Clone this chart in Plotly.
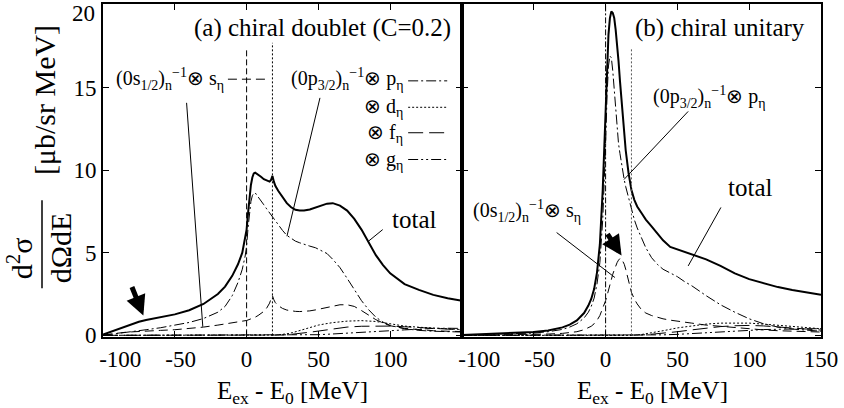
import plotly.graph_objects as go

# ---------------- data: panel (a) chiral doublet (C=0.2) ----------------
E_a = [-100, -95, -90, -85, -80, -75, -70, -60, -50, -40, -30, -20, -15, -10, -6, -3, -1,
       0, 1, 2, 3, 4, 5, 6, 8, 10, 12, 14, 16, 17, 18, 19, 20, 22, 25, 28, 31, 34, 37, 40,
       44, 48, 52, 56, 60, 65, 70, 75, 80, 85, 90, 95, 100, 110, 120, 130, 140, 150]
total_a = [0.05, 0.2, 0.35, 0.5, 0.68, 0.82, 0.93, 1.08, 1.27, 1.52, 1.9, 2.5, 2.95, 3.6, 4.3, 5.0, 5.8,
           6.4, 7.4, 8.4, 9.1, 9.55, 9.8, 9.85, 9.75, 9.6, 9.45, 9.35, 9.3, 9.4, 9.65, 9.3, 9.05, 8.75,
           8.35, 8.0, 7.75, 7.6, 7.55, 7.55, 7.62, 7.75, 7.88, 7.97, 8.0, 7.85, 7.55, 7.05, 6.4, 5.6,
           4.85, 4.25, 3.75, 3.1, 2.75, 2.45, 2.25, 2.1]
p_a = [0.0, 0.05, 0.12, 0.18, 0.23, 0.28, 0.34, 0.46, 0.6, 0.78, 1.02, 1.4, 1.75, 2.4, 3.2, 4.0, 4.8,
       5.4, 6.5, 7.5, 8.1, 8.45, 8.6, 8.62, 8.4, 8.15, 7.9, 7.65, 7.4, 7.28, 7.15, 7.02, 6.9, 6.7,
       6.35, 6.05, 5.85, 5.7, 5.6, 5.5, 5.4, 5.3, 5.15, 4.95, 4.6, 4.1, 3.45, 2.8, 2.1, 1.55,
       1.1, 0.8, 0.6, 0.4, 0.3, 0.25, 0.22, 0.2]
s_a = [0.02, 0.08, 0.14, 0.18, 0.21, 0.24, 0.27, 0.3, 0.34, 0.4, 0.5, 0.62, 0.68, 0.75, 0.8, 0.85, 0.88,
       0.9, 0.93, 0.96, 1.0, 1.03, 1.07, 1.1, 1.2, 1.3, 1.45, 1.65, 1.95, 2.2, 2.4, 2.15, 1.98, 1.8,
       1.63, 1.53, 1.48, 1.45, 1.44, 1.45, 1.48, 1.54, 1.62, 1.7, 1.78, 1.85, 1.85, 1.75, 1.5, 1.2,
       0.95, 0.75, 0.58, 0.42, 0.33, 0.28, 0.25, 0.23]
E_tail_a = [-100, 18, 20, 25, 30, 35, 40, 45, 50, 55, 60, 70, 80, 90, 100, 110, 120, 130, 140, 150]
d_a = [0, 0, 0.02, 0.06, 0.12, 0.24, 0.38, 0.5, 0.62, 0.7, 0.77, 0.86, 0.89, 0.84, 0.7, 0.56, 0.49, 0.44, 0.39, 0.35]
f_a = [0, 0, 0, 0.02, 0.05, 0.09, 0.14, 0.2, 0.26, 0.33, 0.4, 0.5, 0.55, 0.57, 0.56, 0.52, 0.47, 0.42, 0.37, 0.33]
g_a = [0, 0, 0, 0, 0, 0.01, 0.02, 0.03, 0.04, 0.06, 0.08, 0.13, 0.18, 0.22, 0.28, 0.33, 0.38, 0.42, 0.43, 0.42]

# ---------------- data: panel (b) chiral unitary ----------------
E_b = [-100, -90, -80, -70, -60, -50, -40, -30, -25, -20, -15, -12, -10, -8, -6, -4, -2, -1,
       0, 1, 2, 3, 4, 5, 6, 7, 8, 9, 10, 11, 12, 13, 14, 16, 18, 20, 22, 25, 28, 32, 36, 40,
       45, 50, 55, 60, 70, 80, 90, 100, 110, 120, 130, 140, 150]
total_b = [0.02, 0.05, 0.08, 0.1, 0.14, 0.2, 0.3, 0.48, 0.65, 0.9, 1.35, 1.8, 2.2, 2.8, 3.8, 5.5, 8.8, 11.0,
           13.5, 16.2, 18.2, 19.2, 19.6, 19.5, 19.2, 18.5, 17.7, 16.6, 15.4, 14.2, 13.1, 12.1, 11.2, 9.8,
           8.8, 8.2, 7.8, 7.4, 7.0, 6.6, 6.2, 5.75, 5.35, 5.2, 5.05, 4.9, 4.6, 4.2, 3.75, 3.4, 3.15,
           2.92, 2.75, 2.6, 2.45]
p_b = [0.01, 0.03, 0.05, 0.07, 0.1, 0.14, 0.22, 0.36, 0.5, 0.7, 1.05, 1.4, 1.75, 2.25, 3.1, 4.4, 7.0, 9.0,
       11.5, 14.5, 16.3, 16.9, 16.8, 16.0, 14.8, 13.5, 12.4, 11.6, 11.0, 10.4, 9.9, 9.4, 9.0, 8.3,
       7.7, 7.0, 6.5, 5.9, 5.3, 4.7, 4.3, 4.0, 3.8, 3.55, 3.25, 3.0, 2.4, 1.85, 1.4, 1.0, 0.7,
       0.5, 0.38, 0.3, 0.25]
s_b = [0.0, 0.01, 0.02, 0.03, 0.04, 0.06, 0.08, 0.12, 0.16, 0.22, 0.34, 0.44, 0.55, 0.7, 0.9, 1.2, 1.6, 1.85,
       2.1, 2.4, 2.75, 3.1, 3.4, 3.7, 3.95, 4.2, 4.4, 4.55, 4.65, 4.65, 4.5, 4.3, 4.0, 3.3,
       2.6, 2.2, 1.9, 1.55, 1.35, 1.2, 1.08, 1.0, 0.92, 0.85, 0.8, 0.74, 0.62, 0.54, 0.46, 0.38, 0.33,
       0.28, 0.25, 0.22, 0.2]
E_tail_b = [-100, 18, 25, 30, 40, 50, 60, 70, 80, 90, 100, 110, 120, 130, 140, 150]
d_b = [0, 0, 0.05, 0.12, 0.28, 0.45, 0.58, 0.68, 0.74, 0.76, 0.74, 0.68, 0.6, 0.52, 0.45, 0.4]
f_b = [0, 0, 0.02, 0.05, 0.12, 0.22, 0.33, 0.45, 0.53, 0.58, 0.6, 0.57, 0.52, 0.45, 0.38, 0.32]
g_b = [0, 0, 0, 0.01, 0.03, 0.06, 0.1, 0.15, 0.2, 0.25, 0.3, 0.35, 0.38, 0.4, 0.4, 0.4]

# threshold markers (E = 0 and eta threshold)
thr_E = [0, 18]
thr_top_a = [17.4, 17.7]
thr_top_b = [20.0, 17.4]

# ticks
x_ticks_a = [-100, -50, 0, 50, 100]
x_labels_a = ["-100", "-50", "0", "50", "100"]
x_ticks_b = [-100, -50, 0, 50, 100, 150]
x_labels_b = ["-100", "-50", "0", "50", "100", "150"]
y_ticks = [0, 5, 10, 15, 20]
y_labels = ["0", "5", "10", "15", "20"]

FONT = "'Liberation Serif', 'Times New Roman', Times, serif"
BLK = "black"

DASH_S = "9px,5px"
DASH_P = "10px,3px,2px,3px"
DASH_D = "2px,2px"
DASH_F = "15px,6px"
DASH_G = "10px,3px,2px,3px,2px,3px"

# label padding (non-breaking spaces) so the negative labels sit right of their tick as in the source
PAD = {"-100": 6, "-50": 2}
def padded(labels):
    return ["\u00a0" * PAD.get(t, 0) + t for t in labels]

fig = go.Figure()

def add_line(x, y, xa, ya, dash="solid", width=1.0, color=BLK):
    fig.add_trace(go.Scatter(x=x, y=y, xaxis=xa, yaxis=ya, mode="lines",
                             line=dict(color=color, width=width, dash=dash),
                             showlegend=False, hoverinfo="skip"))

# panel a
add_line(E_tail_a, g_a, "x", "y", DASH_G, 1.0)
add_line(E_tail_a, f_a, "x", "y", DASH_F, 1.0)
add_line(E_tail_a, d_a, "x", "y", DASH_D, 1.0)
add_line(E_a, s_a, "x", "y", DASH_S, 1.0)
add_line(E_a, p_a, "x", "y", DASH_P, 1.0)
add_line(E_a, total_a, "x", "y", "solid", 2.0)
add_line([thr_E[0]] * 2, [0, thr_top_a[0]], "x", "y", "6px,3px", 1.0)
add_line([thr_E[1]] * 2, [0, thr_top_a[1]], "x", "y", "2px,2px", 1.0)

# panel b
add_line(E_tail_b, g_b, "x2", "y2", DASH_G, 1.0)
add_line(E_tail_b, f_b, "x2", "y2", DASH_F, 1.0)
add_line(E_tail_b, d_b, "x2", "y2", DASH_D, 1.0)
add_line(E_b, s_b, "x2", "y2", DASH_S, 1.0)
add_line(E_b, p_b, "x2", "y2", DASH_P, 1.0)
add_line(E_b, total_b, "x2", "y2", "solid", 2.0)
add_line([thr_E[0]] * 2, [0, thr_top_b[0]], "x2", "y2", "6px,2px,2px,2px", 1.0)
add_line([thr_E[1]] * 2, [0, thr_top_b[1]], "x2", "y2", "2px,2px", 1.0, "#555555")

shapes = []
annotations = []

def seg(x0, y0, x1, y1, xr="x", yr="y", dash="solid", width=1.0):
    shapes.append(dict(type="line", xref=xr, yref=yr, x0=x0, y0=y0, x1=x1, y1=y1,
                       line=dict(color=BLK, width=width, dash=dash)))

def txt(text, x, y, xr="x", yr="y", size=22, xanchor="center", yanchor="middle", angle=0):
    annotations.append(dict(text=text, x=x, y=y, xref=xr, yref=yr, showarrow=False,
                            xanchor=xanchor, yanchor=yanchor, textangle=angle,
                            font=dict(family=FONT, size=size, color=BLK)))

# panel (a) labels
txt("(a) chiral doublet (C=0.2)", 144, 18.6, xanchor="right", size=25)
txt("(0s<sub>1/2</sub>)<sub>n</sub><sup>−1</sup>⊗ s<sub>η</sub>", -92, 15.5, xanchor="left", size=20)
seg(-13, 15.5, 15, 15.5, dash=DASH_S)
txt("(0p<sub>3/2</sub>)<sub>n</sub><sup>−1</sup>⊗ p<sub>η</sub>", 110, 15.5, xanchor="right", size=20)
seg(112.5, 15.4, 139.7, 15.4, dash=DASH_P)
txt("⊗ d<sub>η</sub>", 110, 13.8, xanchor="right", size=20)
seg(112.5, 13.8, 139.7, 13.8, dash=DASH_D)
txt("⊗ f<sub>η</sub>", 110, 12.2, xanchor="right", size=20)
seg(112.5, 12.26, 139.7, 12.26, dash=DASH_F)
txt("⊗ g<sub>η</sub>", 110, 10.6, xanchor="right", size=20)
seg(112.5, 10.64, 139.7, 10.64, dash=DASH_G)
txt("total", 116.7, 7.0, size=25)
seg(-41.8, 14.07, -30.5, 0.52)
seg(51.1, 14.37, 28.1, 6.0)
seg(94.8, 6.4, 84.9, 5.7)

# panel (b) labels
txt("(b) chiral unitary", 140, 18.6, "x2", "y2", xanchor="right", size=25)
txt("(0p<sub>3/2</sub>)<sub>n</sub><sup>−1</sup>⊗ p<sub>η</sub>", 72, 14.4, "x2", "y2", size=20)
txt("total", 100.5, 8.95, "x2", "y2", size=25)
txt("(0s<sub>1/2</sub>)<sub>n</sub><sup>−1</sup>⊗ s<sub>η</sub>", -54.5, 7.5, "x2", "y2", size=20)
seg(57.5, 13.55, 12.8, 9.43, "x2", "y2")
seg(80.3, 7.74, 57.5, 4.2, "x2", "y2")
seg(-34.1, 6.22, 6.5, 3.5, "x2", "y2")

# thick arrows
for (ax_x, ax_y, xr, yr, dx, dy) in [(-71.9, 1.2, "x", "y", -12, -30), (11.1, 4.83, "x2", "y2", -15, -23)]:
    annotations.append(dict(text="", x=ax_x, y=ax_y, xref=xr, yref=yr, showarrow=True,
                            ax=dx, ay=dy, arrowhead=2, arrowsize=0.8, arrowwidth=5,
                            arrowcolor=BLK))

# axis titles
PW, PH = 718.0, 332.6
def px2paper(px, py):
    return (px - 103) / PW, (336.6 - py) / PH

xa, ya = px2paper(20, 258)
txt("d<sup>2</sup>σ", xa, ya, "paper", "paper", size=30, angle=-90)
xa, ya = px2paper(60, 248)
txt("dΩdE", xa, ya, "paper", "paper", size=30, angle=-90)
x0p, y0p = px2paper(42, 200)
x1p, y1p = px2paper(42, 288)
shapes.append(dict(type="line", xref="paper", yref="paper", x0=x0p, x1=x1p, y0=y0p, y1=y1p,
                   line=dict(color=BLK, width=1.5)))
xa, ya = px2paper(44, 100)
txt("[μb/sr MeV]", xa, ya, "paper", "paper", size=30, angle=-90)
xa, ya = px2paper(292, 392)
txt("E<sub>ex</sub> - E<sub>0</sub> [MeV]", xa, ya, "paper", "paper", size=25)
xa, ya = px2paper(652, 392)
txt("E<sub>ex</sub> - E<sub>0</sub> [MeV]", xa, ya, "paper", "paper", size=25)

# top y tick label sits slightly below its tick (kept inside the page as in the source)
y_labels_axis = [t if v != y_ticks[-1] else "" for v, t in zip(y_ticks, y_labels)]
xa, ya = px2paper(97, 13)
txt(y_labels[-1], xa, ya, "paper", "paper", size=23, xanchor="right")

axis_common = dict(showline=True, linewidth=2, linecolor=BLK, mirror="ticks", ticks="inside",
                   ticklen=6, tickwidth=1, tickcolor=BLK, showgrid=False, zeroline=False,
                   ticklabeloverflow="allow", autorange=False, automargin=False,
                   tickfont=dict(family=FONT, size=23, color=BLK))

fig.update_layout(
    template="none",
    width=844, height=408, autosize=False,
    margin=dict(l=103, r=23, t=4, b=71, pad=0, autoexpand=False),
    paper_bgcolor="white", plot_bgcolor="white",
    showlegend=False,
    font=dict(family=FONT, color=BLK),
    xaxis=dict(domain=[0, 0.5], range=[-100, 150], tickvals=x_ticks_a, ticktext=padded(x_labels_a),
               anchor="y", **axis_common),
    xaxis2=dict(domain=[0.5, 1], range=[-100, 150], tickvals=x_ticks_b, ticktext=padded(x_labels_b),
                anchor="y2", **axis_common),
    yaxis=dict(domain=[0, 1], range=[-0.1, 20.05], tickvals=y_ticks, ticktext=y_labels_axis,
               anchor="x", **axis_common),
    yaxis2=dict(domain=[0, 1], range=[-0.1, 20.05], tickvals=y_ticks, showticklabels=False,
                anchor="x2", **axis_common),
    shapes=shapes,
    annotations=annotations,
)

fig.write_html("out.html", config={"displayModeBar": False},
               post_script="document.body.style.margin='0';document.body.style.overflow='hidden';")
